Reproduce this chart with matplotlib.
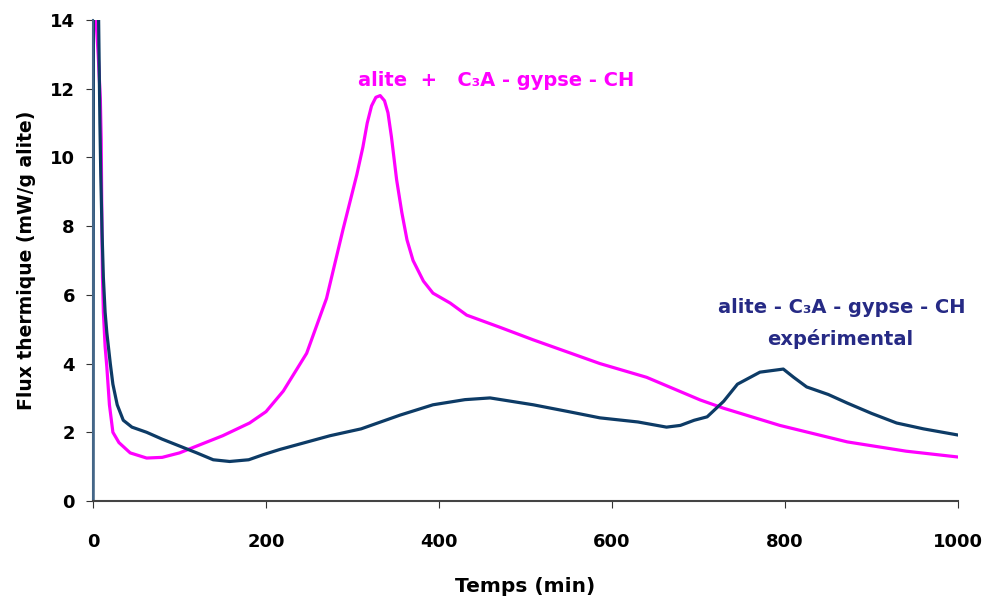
import numpy as np
import matplotlib.pyplot as plt

plt.rcParams['font.family'] = ['DejaVu Sans']
plt.rcParams['font.weight'] = 'bold'

# alite + C3A - gypse - CH (magenta)
t_mag = [1, 6, 8.5, 9.5, 10, 10.5, 11, 12, 14, 16, 19, 23, 30, 43, 62, 80, 100, 120, 150,
         181, 200, 220, 247, 270, 289, 305, 312, 317, 322, 327, 332, 337, 341, 345, 351,
         357, 363, 370, 382, 393, 413, 432, 470, 509, 586, 640, 702, 729, 794, 872, 940, 1000]
q_mag = [15, 13, 11.7, 10.5, 9, 7.5, 6.5, 5.5, 4.5, 3.9, 2.8, 2.0, 1.7, 1.4, 1.25, 1.27, 1.4, 1.6, 1.9,
         2.27, 2.6, 3.2, 4.3, 5.9, 7.9, 9.5, 10.3, 11.0, 11.5, 11.75, 11.8, 11.65, 11.3, 10.6, 9.35,
         8.4, 7.6, 7.0, 6.4, 6.05, 5.76, 5.41, 5.06, 4.69, 4.0, 3.6, 2.94, 2.7, 2.2, 1.72, 1.45, 1.28]

# alite - C3A - gypse - CH experimental (navy)
t_exp = [0, 0.5, 6, 8, 9, 10.5, 12, 14, 16, 20, 23, 28, 35, 45, 62, 80, 100, 120, 139,
         158, 180, 197, 216, 245, 274, 310, 355, 393, 430, 459, 509, 550, 586, 630, 663,
         679, 695, 710, 729, 745, 771, 798, 810, 825, 850, 872, 900, 929, 960, 1000]
q_exp = [0, 15, 15, 11, 9.5, 7.8, 6.5, 5.5, 4.9, 4.0, 3.4, 2.8, 2.35, 2.15, 2.0, 1.8, 1.6, 1.4, 1.2,
         1.15, 1.2, 1.35, 1.5, 1.7, 1.9, 2.1, 2.5, 2.8, 2.95, 3.0, 2.8, 2.6, 2.42, 2.3, 2.15,
         2.2, 2.35, 2.45, 2.9, 3.4, 3.75, 3.84, 3.6, 3.32, 3.1, 2.85, 2.55, 2.27, 2.1, 1.92]

x_ticks = [0, 200, 400, 600, 800, 1000]
y_ticks = [0, 2, 4, 6, 8, 10, 12, 14]

fig = plt.figure(figsize=(9.83, 6.01), dpi=100)
ax = fig.add_axes([0.0946, 0.1664, 0.88, 0.8003])

ax.plot(t_mag, q_mag, color='#ff00ff', lw=2.3)
ax.plot(t_exp, q_exp, color='#0d3b66', lw=2.3)

ax.set_xlim(0, 1000)
ax.set_ylim(0, 14)
ax.set_xticks(x_ticks)
ax.set_yticks(y_ticks)
ax.tick_params(axis='x', length=5, pad=18, labelsize=13, color='#333333')
ax.tick_params(axis='y', length=5, pad=8, labelsize=13, color='#333333')
for lab in ax.get_xticklabels() + ax.get_yticklabels():
    lab.set_fontweight('bold')

ax.spines['top'].set_visible(False)
ax.spines['right'].set_visible(False)
ax.spines['bottom'].set_color('#444444')
ax.spines['left'].set_color('#446688')
ax.spines['bottom'].set_linewidth(1.5)
ax.spines['left'].set_linewidth(1.5)

ax.set_xlabel('Temps (min)', fontsize=14.5, fontweight='bold', labelpad=19)
ax.set_ylabel('Flux thermique (mW/g alite)', fontsize=13.5, fontweight='bold', labelpad=10)

ax.text(466, 12.08, 'alite  +   C\u2083A - gypse - CH', color='#ff00ff', fontsize=14,
        fontweight='bold', ha='center', va='baseline')
ax.text(865, 5.47, 'alite - C\u2083A - gypse - CH', color='#262a85', fontsize=14,
        fontweight='bold', ha='center', va='baseline')
ax.text(864, 4.54, 'expérimental', color='#262a85', fontsize=14,
        fontweight='bold', ha='center', va='baseline')

fig.savefig('out.png', dpi=100)
